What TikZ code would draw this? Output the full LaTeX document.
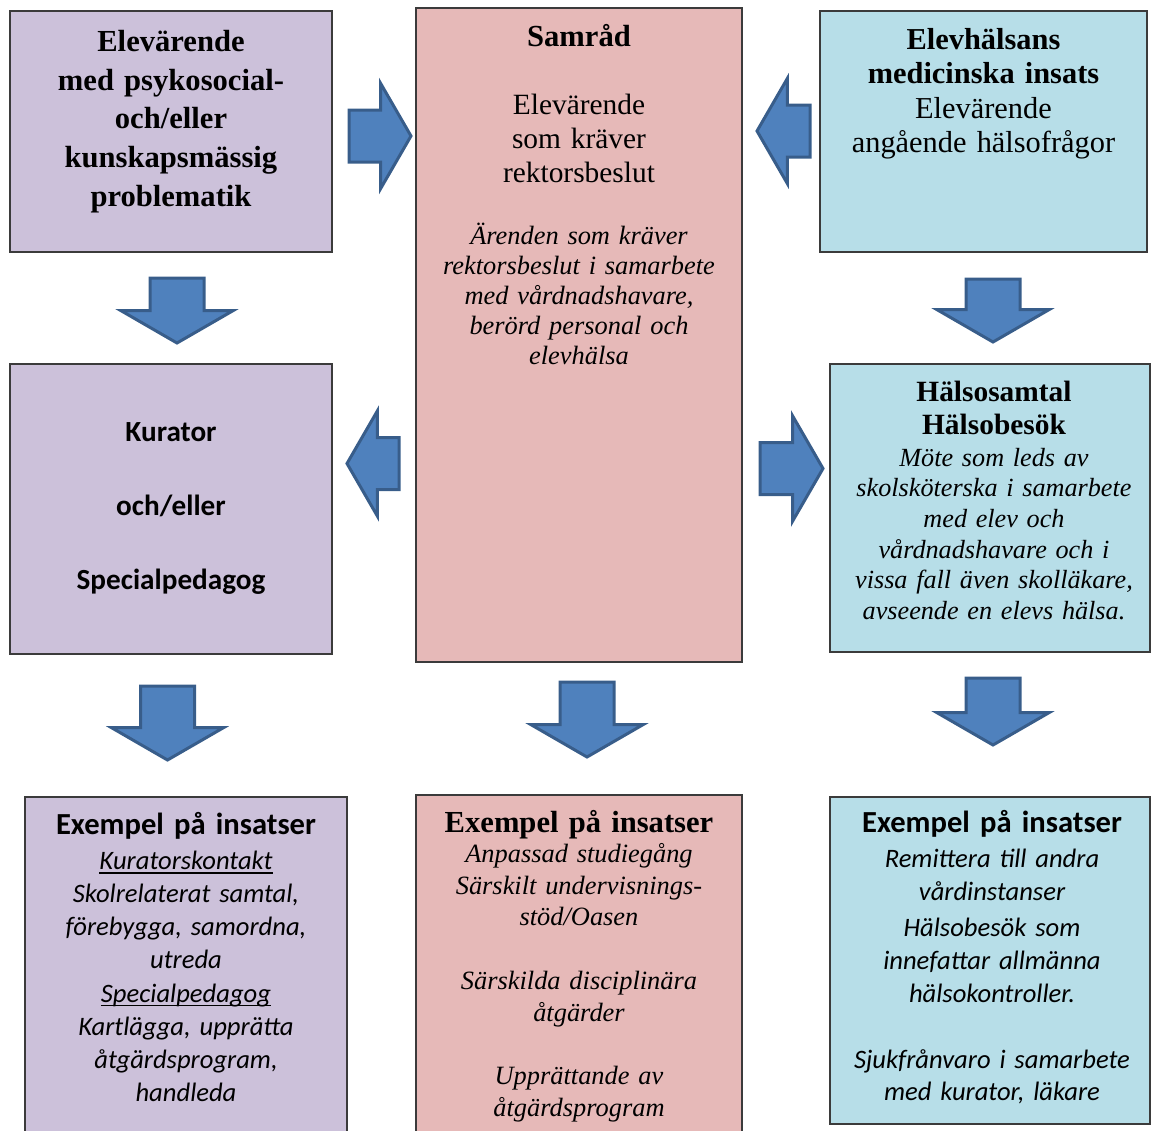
\documentclass[tikz,border=0pt]{standalone}
\usepackage{fontspec}
\setmainfont{Liberation Serif}
\setsansfont{Carlito}
\usepackage{xcolor}
\usepackage{tikz}
\usetikzlibrary{shapes.arrows, calc}

\definecolor{lilac}{HTML}{CCC1DA}
\definecolor{rose}{HTML}{E6B9B8}
\definecolor{aqua}{HTML}{B7DEE8}
\definecolor{arrowfill}{HTML}{4F81BD}
\definecolor{arrowline}{HTML}{385D8A}
\definecolor{boxline}{HTML}{3B3B3B}

% underline set close to the baseline
\newcommand{\undl}[1]{\leavevmode\setbox0=\hbox{#1}\rlap{\rule[-2.2pt]{\wd0}{0.6pt}}\box0}

\begin{document}
\begin{tikzpicture}[
    x=0.5pt, y=-0.5pt,
    box/.style={
        rectangle,
        draw=boxline,
        line width=0.8pt,
        inner sep=0pt
    },
    txt/.style={
        inner sep=0pt,
        anchor=base,
        align=center,
        text width=155pt
    },
    blockarrow/.style={
        single arrow,
        draw=arrowline,
        fill=arrowfill,
        line width=1.5pt,
        single arrow tip angle=120,
        anchor=tail
    },
    hflow/.style={blockarrow, inner xsep=0pt, inner ysep=12.25pt, single arrow head extend=13.25pt},
    vflow/.style={blockarrow, inner ysep=0pt, inner xsep=12.75pt, single arrow head extend=14.5pt, shape border rotate=270}
]
  \useasboundingbox (0,0) rectangle (1151,1130);
  \clip (0,0) rectangle (1151,1130);

  % top row
  \node[box, fill=lilac, minimum width=161pt, minimum height=120.5pt] (elev) at (171,131.5) {};
  \node[txt, font=\fontsize{15.3}{19.4}\selectfont\bfseries] (elevtxt)
    at ($(elev.north)+(0,41)$) {Elevärende\\med psykosocial-\\och/eller\\kunskapsmässig\\problematik};

  \node[box, fill=rose, minimum width=163pt, minimum height=327pt] (samrad) at (579,335) {};
  \node[txt, font=\fontsize{15.3}{17}\selectfont\bfseries] (samhead)
    at ($(samrad.north)+(0,39)$) {Samråd};
  \node[txt, font=\fontsize{14.7}{17}\selectfont] (samtxt)
    at ($(samrad.north)+(0,107)$) {Elevärende\\som kräver\\rektorsbeslut};
  \node[txt, font=\fontsize{13.2}{15}\selectfont\itshape] (samnote)
    at ($(samrad.north)+(0,237)$) {Ärenden som kräver\\rektorsbeslut i samarbete\\med vårdnadshavare,\\berörd personal och\\elevhälsa};

  \node[box, fill=aqua, minimum width=163.5pt, minimum height=120.5pt] (medic) at (983.5,131.5) {};
  \node[txt, font=\fontsize{15.2}{17.2}\selectfont] (medictxt)
    at ($(medic.north)+(0,39)$) {\textbf{Elevhälsans}\\\textbf{medicinska insats}\\Elevärende\\angående hälsofrågor};

  % middle row
  \node[box, fill=lilac, minimum width=161pt, minimum height=145pt] (kurator) at (171,509) {};
  \node[txt, font=\fontsize{14.6}{18.5}\selectfont\sffamily\bfseries] (kurtxt)
    at ($(kurator.north)+(0,78)$) {Kurator\\[18.5pt]och/eller\\[18.5pt]Specialpedagog};

  \node[box, fill=aqua, minimum width=160pt, minimum height=144pt] (halsa) at (990,508) {};
  \node[txt, font=\fontsize{14.7}{16.5}\selectfont\bfseries] (halsahead)
    at ($(halsa.north)+(4,38)$) {Hälsosamtal\\Hälsobesök};
  \node[txt, text width=158pt, font=\fontsize{13.1}{15.3}\selectfont\itshape] (halsatxt)
    at ($(halsa.north)+(4,103)$) {Möte som leds av\\skolsköterska i samarbete\\med elev och\\vårdnadshavare och i\\vissa fall även skolläkare,\\avseende en elevs hälsa.};

  % bottom row
  \node[box, fill=lilac, minimum width=161pt, minimum height=171.5pt] (exkur) at (186,968.5) {};
  \node[txt, font=\fontsize{15.3}{17}\selectfont\sffamily\bfseries] (exkurhead)
    at ($(exkur.north)+(0,38)$) {Exempel på insatser};
  \node[txt, font=\fontsize{13.3}{16.6}\selectfont\sffamily\itshape] (exkurtxt)
    at ($(exkur.north)+(0,73)$) {\undl{Kuratorskontakt}\\Skolrelaterat samtal,\\förebygga, samordna,\\utreda\\\undl{Specialpedagog}\\Kartlägga, upprätta\\åtgärdsprogram,\\handleda};

  \node[box, fill=rose, minimum width=163pt, minimum height=172.5pt] (exsam) at (579,967.5) {};
  \node[txt, font=\fontsize{15.3}{17}\selectfont\bfseries] (exsamhead)
    at ($(exsam.north)+(0,38)$) {Exempel på insatser};
  \node[txt, font=\fontsize{13.2}{15.9}\selectfont\itshape] (exsamtxt)
    at ($(exsam.north)+(0,68)$) {Anpassad studiegång\\Särskilt undervisnings-\\stöd/Oasen\\[15.9pt]Särskilda disciplinära\\åtgärder\\[15.9pt]Upprättande av\\åtgärdsprogram};

  \node[box, fill=aqua, minimum width=160pt, minimum height=163.5pt] (exhal) at (990,960.5) {};
  \node[txt, font=\fontsize{15.3}{17}\selectfont\sffamily\bfseries] (exhalhead)
    at ($(exhal.north)+(2,36)$) {Exempel på insatser};
  \node[txt, font=\fontsize{13.3}{16.4}\selectfont\sffamily\itshape] (exhaltxt)
    at ($(exhal.north)+(2,71)$) {Remittera till andra\\vårdinstanser\\[2pt]Hälsobesök som\\innefattar allmänna\\hälsokontroller.\\[16.4pt]Sjukfrånvaro i samarbete\\med kurator, läkare};

  % block arrows
  \node[hflow, minimum height=31pt] (elev2sam) at (347.5,136) {};
  \node[hflow, minimum height=26.5pt, shape border rotate=180] (medic2sam) at (811.5,131) {};
  \node[vflow, minimum height=32.5pt] (elev2kur) at (177,276.5) {};
  \node[vflow, minimum height=31.5pt] (medic2hal) at (993,277.5) {};
  \node[hflow, minimum height=26pt, shape border rotate=180] (sam2kur) at (400.5,463.5) {};
  \node[hflow, minimum height=31.5pt] (sam2hal) at (758.5,468.5) {};
  \node[vflow, minimum height=37pt] (kur2ex) at (167.5,684.5) {};
  \node[vflow, minimum height=37.5pt] (sam2ex) at (587,680.5) {};
  \node[vflow, minimum height=33.5pt] (hal2ex) at (993,676.5) {};
\end{tikzpicture}
\end{document}
